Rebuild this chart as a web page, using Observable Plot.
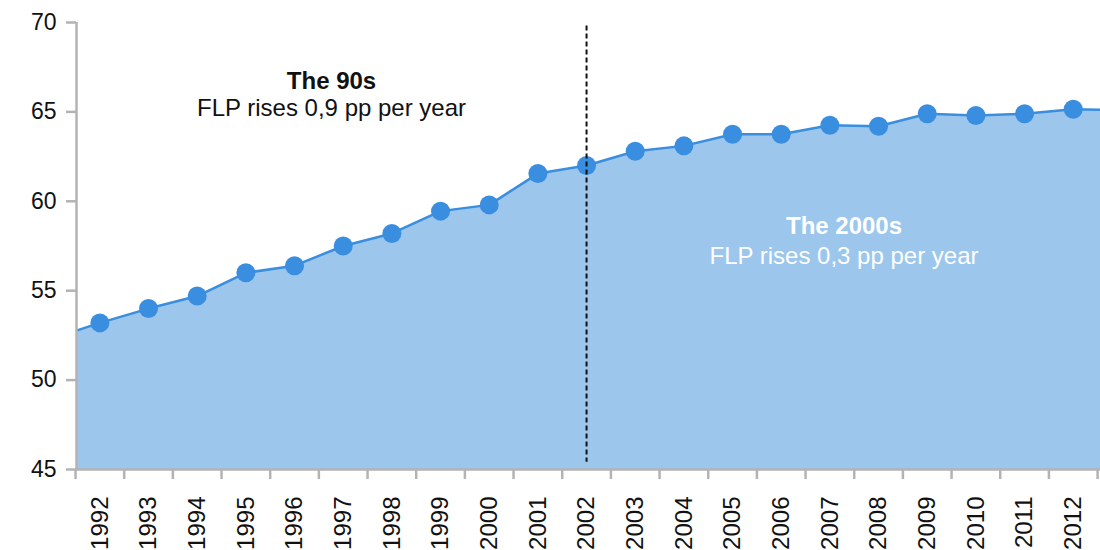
<!DOCTYPE html>
<html>
<head>
<meta charset="utf-8">
<script src="https://cdn.jsdelivr.net/npm/d3@7"></script>
<script src="https://cdn.jsdelivr.net/npm/@observablehq/plot@0.6"></script>
<style>
  html, body { margin: 0; padding: 0; background: #fff; }
  #chart svg { display: block; }
</style>
</head>
<body>
<div id="chart"></div>
<script>
// Female labour participation (%) by year (1991 and 2013 only partly visible at the edges)
const years = [1991, 1992, 1993, 1994, 1995, 1996, 1997, 1998, 1999, 2000, 2001, 2002,
               2003, 2004, 2005, 2006, 2007, 2008, 2009, 2010, 2011, 2012, 2013];
const flp = [52.3, 53.2, 54.0, 54.7, 56.0, 56.4, 57.5, 58.2, 59.45, 59.8, 61.55, 62.0,
             62.8, 63.1, 63.75, 63.75, 64.25, 64.2, 64.9, 64.8, 64.9, 65.15, 65.1];
const labelYears = [1992, 1993, 1994, 1995, 1996, 1997, 1998, 1999, 2000, 2001, 2002,
                    2003, 2004, 2005, 2006, 2007, 2008, 2009, 2010, 2011, 2012];
const yTicks = [45, 50, 55, 60, 65, 70];
const dividerYear = [2002];
const annoTitles = ["The 90s", "The 2000s"];
const annoTexts = ["FLP rises 0,9 pp per year", "FLP rises 0,3 pp per year"];
const annoX = [1996.76, 2007.29];
const annoTitleY = [66.3, 58.18];
const annoTextY = [64.75, 56.5];
const annoColor = ["#111111", "#ffffff"];

const data = years.map((year, i) => ({year, value: flp[i]}));
const titles = annoTitles.map((t, i) => ({t, x: annoX[i], y: annoTitleY[i], c: annoColor[i]}));
const texts = annoTexts.map((t, i) => ({t, x: annoX[i], y: annoTextY[i], c: annoColor[i]}));
const xDomain = [1991.52, 2012.56];
const tickBounds = labelYears.concat([2013]).map(y => y - 0.5);

const areaFill = "#9cc6ec";
const blue = "#3a8ee0";
const axisGray = "#b3b3b3";

const chart = Plot.plot({
  width: 1100,
  height: 550,
  marginLeft: 76,
  marginRight: 0,
  marginTop: 22,
  marginBottom: 81,
  style: {fontFamily: "'Liberation Sans', Arial, Helvetica, sans-serif", fontSize: "23px", color: "#111"},
  x: {domain: xDomain},
  y: {domain: [45, 70]},
  marks: [
    Plot.areaY(data, {x: "year", y1: 45, y2: "value", fill: areaFill, clip: true}),
    Plot.lineY(data, {x: "year", y: "value", stroke: blue, strokeWidth: 2.5, clip: true}),
    Plot.dot(data, {x: "year", y: "value", r: 9.5, fill: blue, clip: true}),
    Plot.ruleX(dividerYear, {y1: 69.8, y2: 45.4, stroke: "#111", strokeWidth: 2, strokeDasharray: "5,3"}),
    // axis lines
    Plot.ruleY([45], {stroke: axisGray, strokeWidth: 2.5}),
    Plot.ruleX([xDomain[0]], {y1: 45, y2: 70, stroke: axisGray, strokeWidth: 2.5}),
    // y axis ticks + labels
    Plot.axisY({ticks: yTicks, tickSize: 10, tickFormat: () => "", color: axisGray, strokeWidth: 2.5}),
    Plot.axisY({ticks: yTicks, tickSize: 0, tickPadding: 20, fill: "#111", fontSize: 23}),
    // x axis ticks + labels
    Plot.axisX({ticks: tickBounds, tickSize: 10, tickFormat: () => "", color: axisGray, strokeWidth: 2.5}),
    Plot.axisX({ticks: labelYears, tickSize: 0, tickPadding: 27, tickRotate: -90, tickFormat: d => String(d), fill: "#111", fontSize: 24}),
    // annotations
    Plot.text(titles, {x: "x", y: "y", text: "t", fill: "c", fontWeight: "bold", fontSize: 24, lineAnchor: "bottom", textAnchor: "middle"}),
    Plot.text(texts, {x: "x", y: "y", text: "t", fill: "c", fontSize: 24, lineAnchor: "bottom", textAnchor: "middle"})
  ]
});
document.getElementById("chart").append(chart);
</script>
</body>
</html>
